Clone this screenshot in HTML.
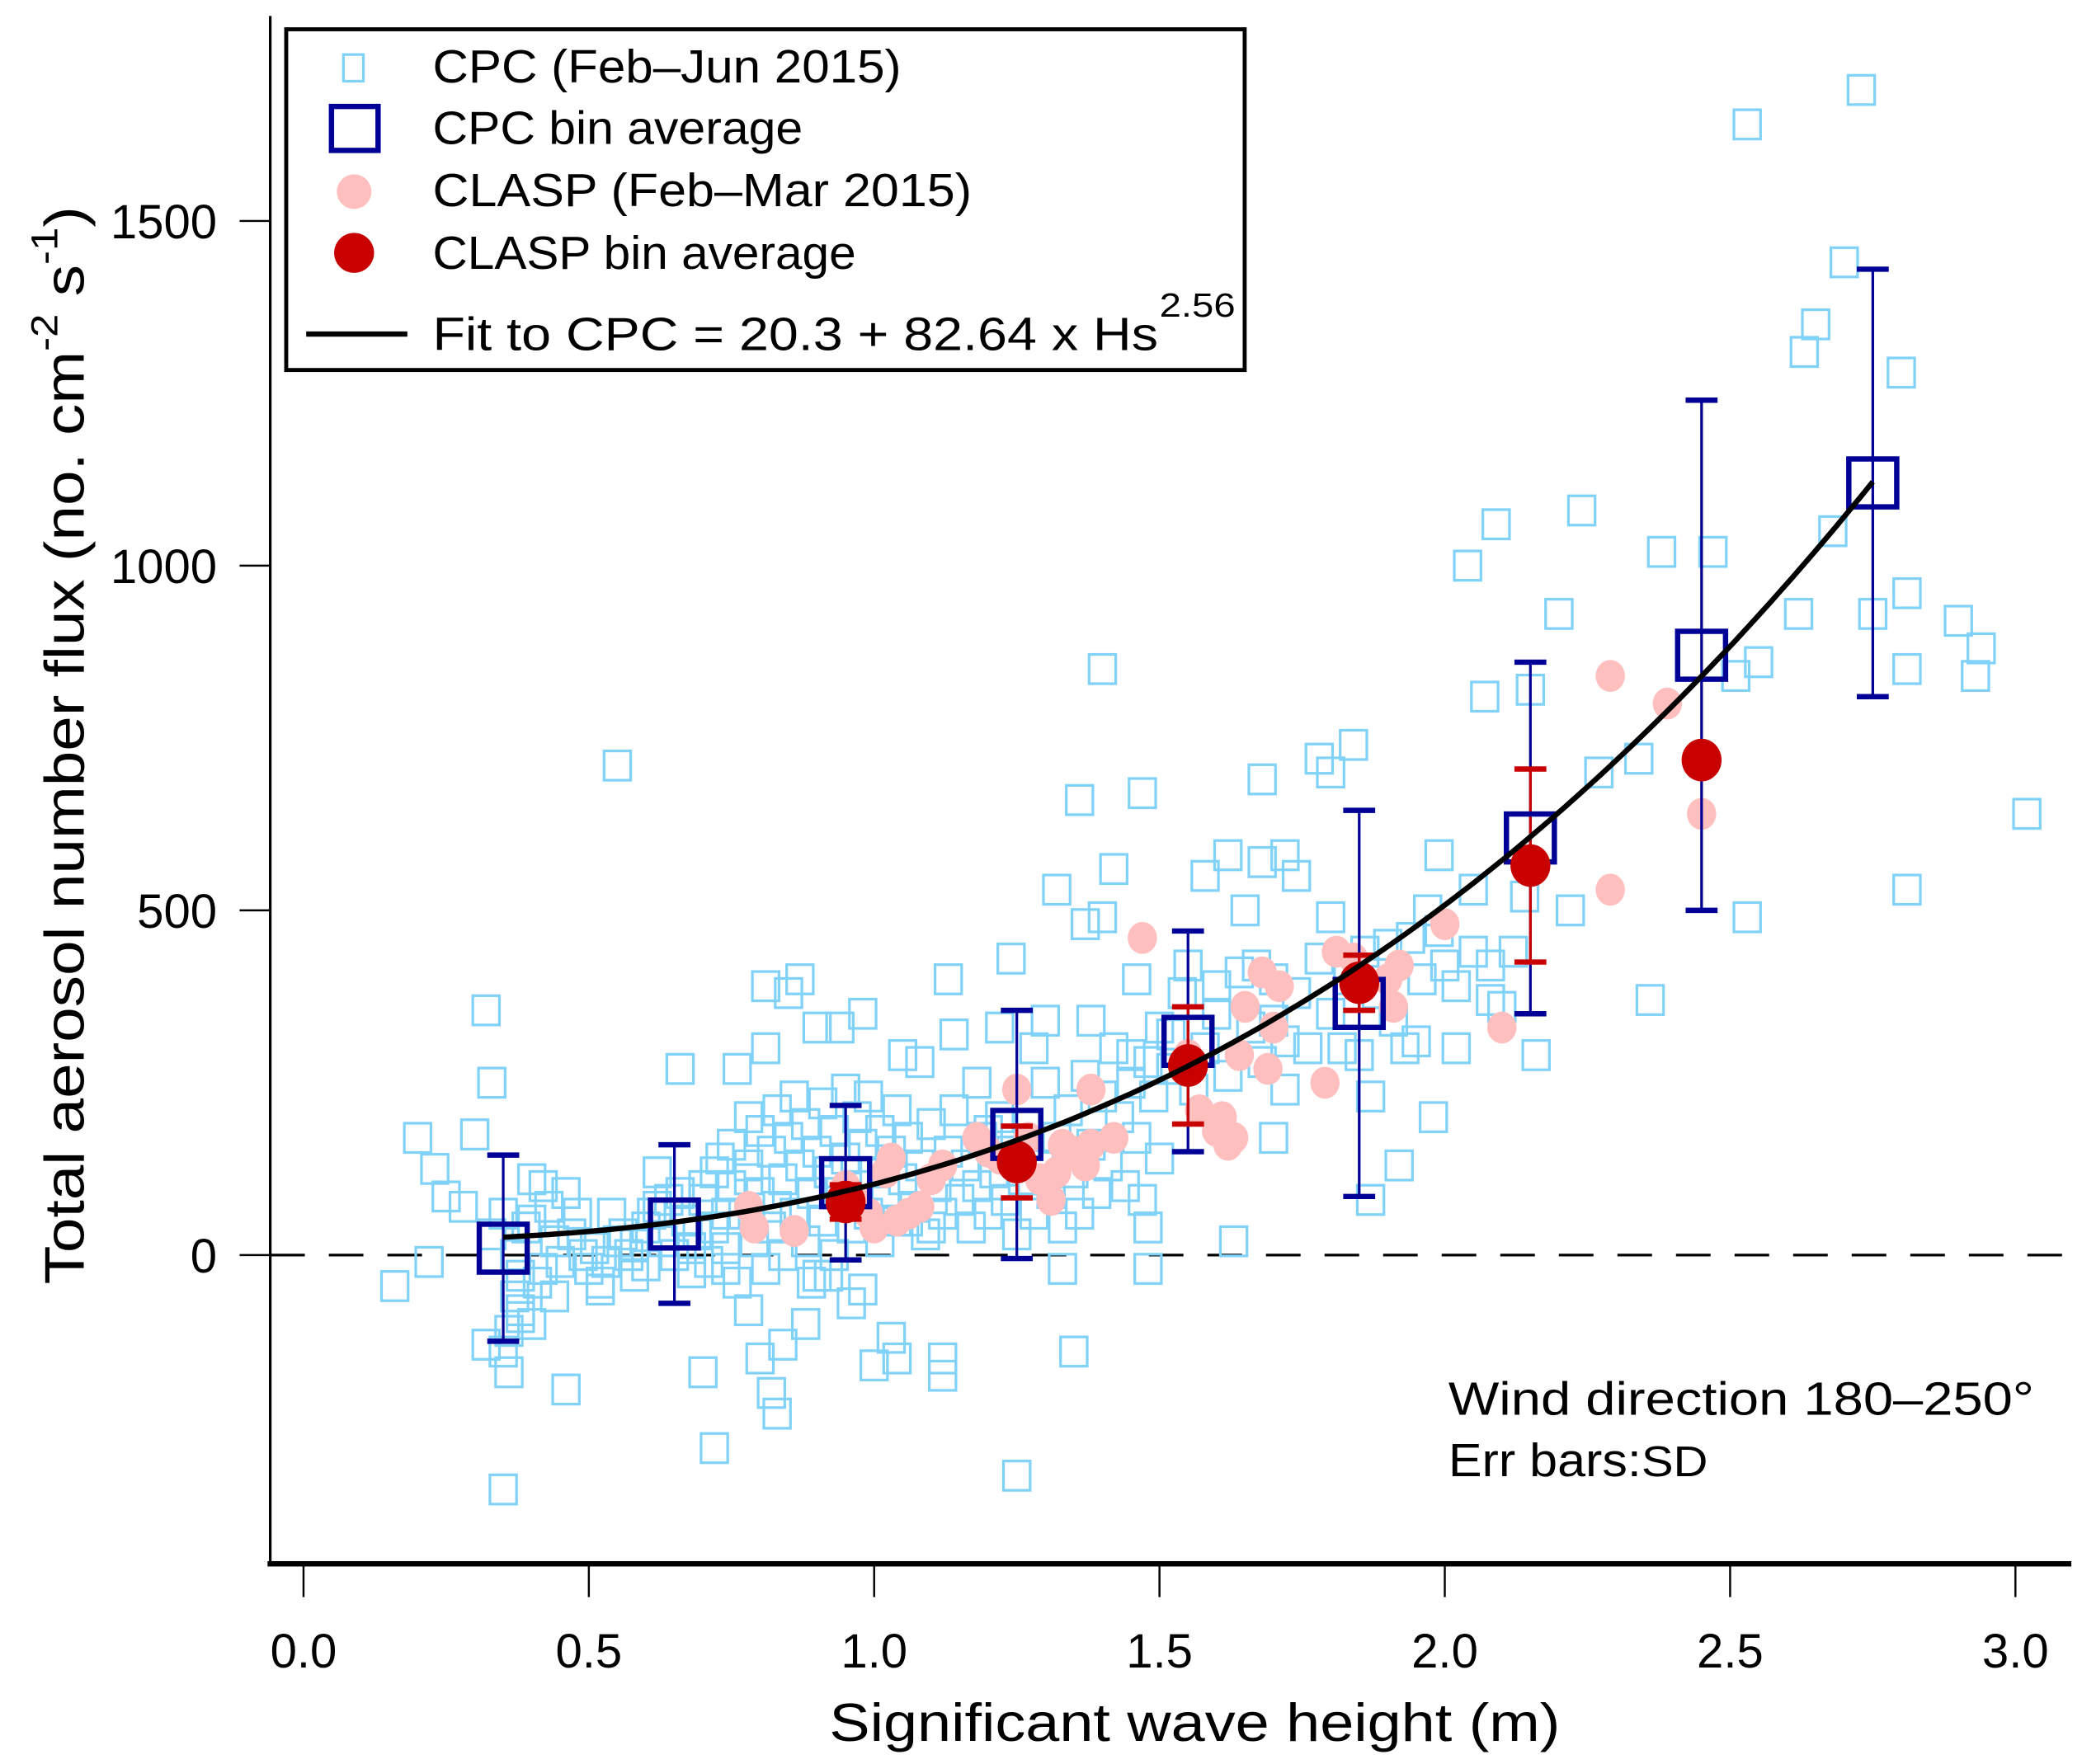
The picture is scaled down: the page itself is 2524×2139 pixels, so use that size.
<!DOCTYPE html>
<html><head><meta charset="utf-8"><style>html,body{margin:0;padding:0;background:#fff}svg{display:block}</style></head>
<body>
<svg id="chart" width="2524" height="2139" viewBox="0 0 1564 1325.4" preserveAspectRatio="none" xmlns="http://www.w3.org/2000/svg" font-family="'Liberation Sans', sans-serif">
<g id="plot"></g>
<g id="axes"></g>
<g>
  <rect x="215" y="22" width="720" height="256" fill="#fff" stroke="#000" stroke-width="3"/>
  <rect x="258" y="41" width="15" height="20" fill="none" stroke="#80d2f8" stroke-width="2"/>
  <text x="325" y="62" font-size="35" textLength="352" lengthAdjust="spacingAndGlyphs">CPC (Feb–Jun 2015)</text>
  <rect x="249" y="80" width="35" height="33" fill="none" stroke="#000096" stroke-width="4"/>
  <text x="325" y="108" font-size="35" textLength="278" lengthAdjust="spacingAndGlyphs">CPC bin average</text>
  <ellipse cx="266" cy="144" rx="13" ry="13" fill="#ffbfbf"/>
  <text x="325" y="155" font-size="35" textLength="405" lengthAdjust="spacingAndGlyphs">CLASP (Feb–Mar 2015)</text>
  <ellipse cx="266" cy="190" rx="15" ry="15" fill="#c80000"/>
  <text x="325" y="202" font-size="35" textLength="318" lengthAdjust="spacingAndGlyphs">CLASP bin average</text>
  <line x1="230" y1="251" x2="306" y2="251" stroke="#000" stroke-width="4"/>
  <text x="325" y="263" font-size="35" textLength="545" lengthAdjust="spacingAndGlyphs">Fit to CPC = 20.3 + 82.64 x Hs</text>
  <text x="871" y="238" font-size="25" textLength="57" lengthAdjust="spacingAndGlyphs">2.56</text>
</g>
<text x="1088" y="1063" font-size="35" textLength="440" lengthAdjust="spacingAndGlyphs">Wind direction 180–250°</text>
<text x="1088" y="1109" font-size="35"><tspan textLength="145" lengthAdjust="spacingAndGlyphs">Err bars:</tspan><tspan font-size="32" textLength="50" lengthAdjust="spacingAndGlyphs">SD</tspan></text>
<text x="623" y="1308" font-size="40" textLength="549" lengthAdjust="spacingAndGlyphs">Significant wave height (m)</text>
<text transform="translate(63,965) rotate(-90)" font-size="42" textLength="810" lengthAdjust="spacingAndGlyphs">Total aerosol number flux (no. cm<tspan dy="-20" font-size="28">-2</tspan><tspan dy="20"> s</tspan><tspan dy="-20" font-size="28">-1</tspan><tspan dy="20">)</tspan></text>
<script>
const xTicks=[0.0,0.5,1.0,1.5,2.0,2.5,3.0];
const xTickLabels=["0.0","0.5","1.0","1.5","2.0","2.5","3.0"];
const yTicks=[0,500,1000,1500];
const yTickLabels=["0","500","1000","1500"];
const cpcX=[0.16,0.20,0.23,0.22,0.25,0.28,0.30,0.32,0.33,0.32,0.35,0.36,0.37,0.38,0.35,0.40,0.42,0.46,0.48,0.42,0.44,0.50,0.52,0.55,0.57,0.55,0.60,0.62,0.64,0.66,0.68,0.68,0.70,0.72,0.72,0.74,0.75,0.76,0.78,0.78,0.80,0.81,0.81,0.82,0.83,0.84,0.85,0.87,0.88,0.90,0.92,0.94,0.96,0.98,1.0,1.03,1.04,1.05,1.08,1.12,1.12,1.13,1.14,1.18,1.2,1.22,1.24,1.25,1.28,1.30,1.32,1.33,1.35,1.36,1.37,1.38,1.40,1.40,1.42,1.45,1.47,1.46,1.48,1.48,1.47,1.50,1.52,1.55,1.58,1.60,1.62,1.63,1.65,1.67,1.68,1.68,1.70,1.72,1.72,1.74,1.70,1.78,1.80,1.80,1.82,1.84,1.85,1.87,1.87,1.90,1.92,1.93,1.95,1.97,1.98,1.99,2.00,2.02,2.04,2.05,2.07,2.08,2.09,2.10,2.12,2.14,2.15,2.16,2.20,2.22,2.24,2.27,2.34,2.36,2.38,2.47,2.51,2.53,2.53,2.55,2.62,2.63,2.65,2.68,2.70,2.73,2.75,2.80,2.81,2.81,2.81,2.90,2.93,2.94,3.02,
0.33,0.35,0.37,0.38,0.39,0.40,0.41,0.43,0.45,0.47,0.49,0.51,0.53,0.56,0.58,0.60,0.61,0.63,0.65,0.66,0.67,0.69,0.70,0.71,0.72,0.73,0.74,0.75,0.76,0.77,0.78,0.79,0.80,0.80,0.81,0.82,0.82,0.83,0.84,0.84,0.85,0.86,0.86,0.87,0.88,0.88,0.89,0.90,0.90,0.91,0.91,0.92,0.93,0.93,0.94,0.95,0.95,0.96,0.97,0.97,0.98,0.99,0.99,1.00,1.01,1.01,1.02,1.03,1.04,1.04,1.05,1.06,1.07,1.08,1.09,1.10,1.11,1.12,1.13,1.14,1.15,1.16,1.17,1.18,1.19,1.20,1.21,1.22,1.23,1.24,1.25,1.26,1.27,1.28,1.29,1.30,1.31,1.32,1.33,1.34,1.35,1.36,1.37,1.38,1.39,1.40,1.41,1.42,1.43,1.44,1.45,1.46,1.48,1.49,1.50,1.52,1.54,1.56,1.58,1.60,1.62,1.64,1.66,1.68,1.70,1.72,1.74,1.76,1.78,1.80,1.83,1.86,1.88,1.91,1.94,1.96,1.99,2.02,2.05,2.08,
0.36,0.38,0.40,0.44,0.46,0.52,0.54,0.58,0.62,0.70,0.74,0.78,0.83,0.89,0.92,0.98,1.06,1.10];
const cpcFlux=[-45,170,125,-10,85,70,175,355,250,-130,-140,-170,-60,-80,-340,-100,-20,-195,60,100,20,-20,-50,20,0,710,40,120,80,270,10,-25,-170,120,-280,60,160,270,200,-80,-150,300,390,-200,-230,-130,380,400,-100,330,-30,330,-70,350,-160,-120,-150,290,280,-150,-175,400,320,250,180,330,430,-320,300,340,530,-20,-140,660,480,340,490,850,560,290,670,400,-20,40,80,140,320,420,550,390,580,20,500,420,690,570,340,240,580,550,170,720,700,490,300,740,290,230,80,450,130,300,310,500,200,580,420,300,1000,530,810,420,1060,360,440,520,820,290,930,500,1080,700,720,370,1020,1020,840,490,1640,860,930,1310,1350,1050,1440,1690,930,1280,960,850,530,920,840,880,640,
30,60,0,-30,40,110,-40,70,-10,30,0,10,-10,30,15,-15,60,20,0,90,50,30,80,-10,40,140,10,100,-40,60,130,20,180,90,-20,150,40,210,110,0,170,60,230,130,20,190,90,150,-30,220,50,120,180,0,90,240,140,40,200,100,160,60,230,120,180,20,90,150,210,50,110,170,70,130,30,190,100,60,150,210,80,130,40,100,170,60,120,200,80,150,30,110,190,60,130,250,90,170,40,210,120,60,260,160,90,230,130,300,200,100,250,170,280,230,330,270,380,240,300,350,260,410,330,280,400,310,380,300,430,350,400,440,380,340,460,400,470,390,440,370,
-110,-90,50,-60,90,-40,60,-30,70,100,-20,110,70,-40,120,-50,50,40];
const binX=[0.35,0.65,0.95,1.25,1.55,1.85,2.15,2.45,2.75];
const binMean=[10,45,105,175,310,365,605,870,1120];
const binSD=[135,115,112,180,160,280,255,370,310];
const claspX=[0.78,0.79,0.86,0.95,0.97,0.99,1.00,1.02,1.03,1.04,1.06,1.08,1.10,1.12,1.18,1.20,1.22,1.25,1.27,1.29,1.31,1.32,1.33,1.35,1.37,1.38,1.38,1.42,1.47,1.55,1.57,1.60,1.61,1.62,1.63,1.64,1.65,1.68,1.69,1.70,1.71,1.79,1.81,1.84,1.90,1.91,1.92,2.00,2.10,2.29,2.29,2.39,2.45];
const claspFlux=[70,40,35,100,80,60,40,120,140,50,60,70,110,130,170,150,140,240,170,110,80,120,160,150,130,240,160,170,460,290,210,180,200,160,170,290,360,410,270,330,390,250,440,430,400,360,420,480,330,840,530,800,640];
const claspBinX=[0.95,1.25,1.55,1.85,2.15,2.45];
const claspBinMean=[77,135,275,395,565,718];
const claspBinSD=[25,52,85,40,140,0];
const fitA=20.3, fitB=82.64, fitP=2.56;

const NS="http://www.w3.org/2000/svg";
const sx=v=>228+v*(1514-228)/3;
const sy=v=>943-v*(943-166)/1500;
const plot=document.getElementById('plot'), axes=document.getElementById('axes');
function mk(tag,attrs,parent){const e=document.createElementNS(NS,tag);for(const k in attrs)e.setAttribute(k,attrs[k]);parent.appendChild(e);return e;}

const zl=mk('line',{x1:203,x2:1556,y1:sy(0),y2:sy(0),stroke:'#000','stroke-width':2,'stroke-dasharray':'26 18'},plot);



cpcX.forEach((x,i)=>{const r=mk('rect',{x:sx(x)-10,y:sy(cpcFlux[i])-11,width:20,height:22,fill:'none',stroke:'#80d2f8','stroke-width':2},plot);

});

claspX.forEach((x,i)=>{const c=mk('ellipse',{cx:sx(x),cy:sy(claspFlux[i]),rx:11,ry:12,fill:'#ffbfbf'},plot);

});

binX.forEach((x,i)=>{const g=mk('g',{stroke:'#000096',fill:'none'},plot);


const t=sy(binMean[i]+binSD[i]),b=sy(binMean[i]-binSD[i]);
mk('line',{x1:sx(x),x2:sx(x),y1:t,y2:b,'stroke-width':2},g);
mk('line',{x1:sx(x)-12,x2:sx(x)+12,y1:t,y2:t,'stroke-width':4},g);
mk('line',{x1:sx(x)-12,x2:sx(x)+12,y1:b,y2:b,'stroke-width':4},g);});

claspBinX.forEach((x,i)=>{if(claspBinSD[i]<=0)return;const g=mk('g',{stroke:'#c80000'},plot);


const t=sy(claspBinMean[i]+claspBinSD[i]),b=sy(claspBinMean[i]-claspBinSD[i]);
mk('line',{x1:sx(x),x2:sx(x),y1:t,y2:b,'stroke-width':2},g);
mk('line',{x1:sx(x)-12,x2:sx(x)+12,y1:t,y2:t,'stroke-width':4},g);
mk('line',{x1:sx(x)-12,x2:sx(x)+12,y1:b,y2:b,'stroke-width':4},g);});

binX.forEach((x,i)=>{const r=mk('rect',{x:sx(x)-18,y:sy(binMean[i])-18,width:36,height:36,fill:'none',stroke:'#000096','stroke-width':4},plot);

});

claspBinX.forEach((x,i)=>{const c=mk('ellipse',{cx:sx(x),cy:sy(claspBinMean[i]),rx:15,ry:16,fill:'#c80000'},plot);

});

let d='';for(let k=0;k<=120;k++){const h=binX[0]+(binX[binX.length-1]-binX[0])*k/120;d+=(k?'L':'M')+sx(h).toFixed(1)+' '+sy(fitA+fitB*Math.pow(h,fitP)).toFixed(1);}
const fl=mk('path',{d:d,fill:'none',stroke:'#000','stroke-width':4},plot);



const ya=mk('line',{x1:203,x2:203,y1:12,y2:1177,stroke:'#000','stroke-width':2},axes);


const xa=mk('line',{x1:201,x2:1556,y1:1175,y2:1175,stroke:'#000','stroke-width':4},axes);


xTicks.forEach((v,i)=>{const l=mk('line',{x1:sx(v),x2:sx(v),y1:1177,y2:1200,stroke:'#000','stroke-width':1.5},axes);


const t=mk('text',{x:sx(v),y:1253,'font-size':36,'text-anchor':'middle'},axes);t.textContent=xTickLabels[i];

});
yTicks.forEach((v,i)=>{const l=mk('line',{x1:180,x2:203,y1:sy(v),y2:sy(v),stroke:'#000','stroke-width':1.5},axes);


const t=mk('text',{x:163,y:sy(v)+13,'font-size':36,'text-anchor':'end'},axes);t.textContent=yTickLabels[i];

});
</script>
</svg>
</body></html>
